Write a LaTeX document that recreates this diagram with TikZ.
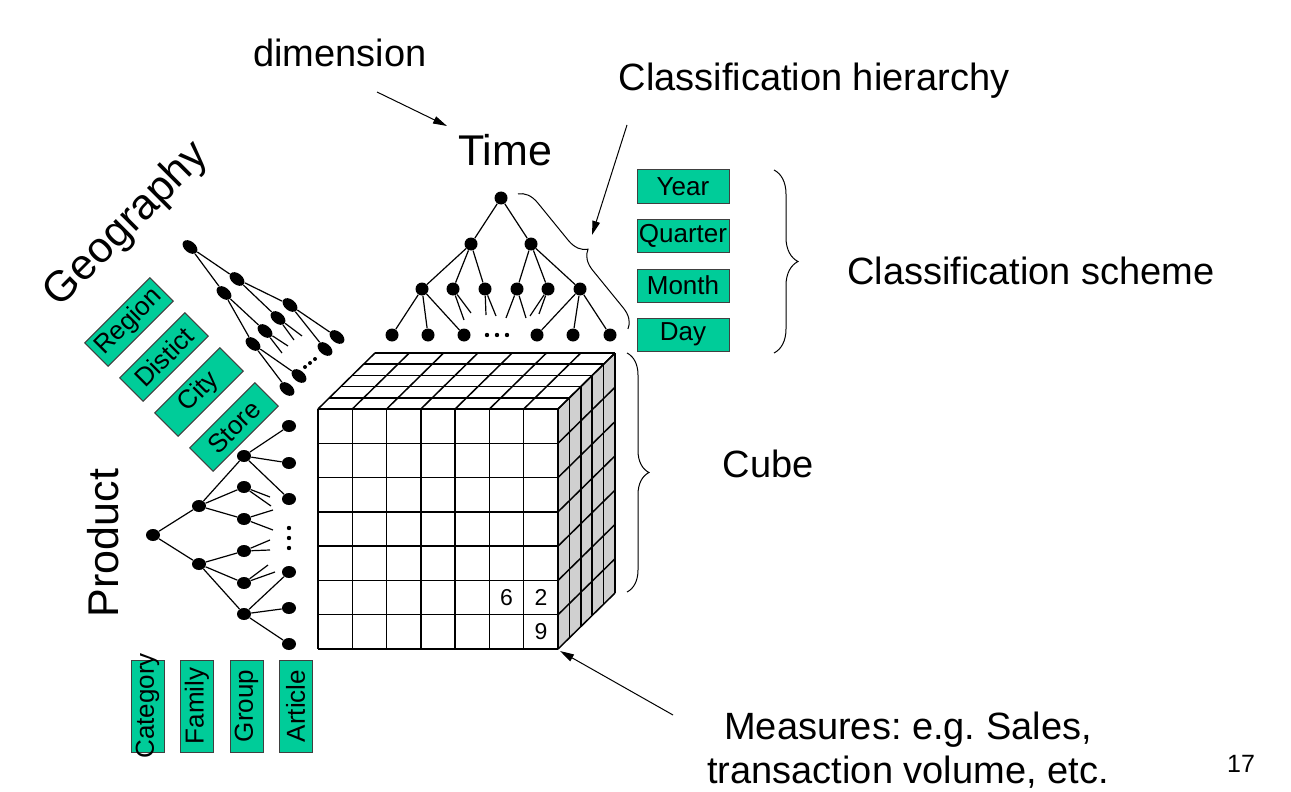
\documentclass[tikz,border=0pt]{standalone}
\usepackage{fontspec}
\setmainfont{Liberation Sans}
\usetikzlibrary{arrows.meta,shapes.geometric,decorations.pathreplacing}
\frenchspacing

\definecolor{levelgreen}{RGB}{0,204,153}
\definecolor{sidegray}{RGB}{208,208,208}

\newcommand{\bigtext}{\fontsize{21.5}{24}\selectfont}
\newcommand{\midtext}{\fontsize{19}{22}\selectfont}
\newcommand{\boxtext}{\fontsize{13}{15}\selectfont}
\newcommand{\celltext}{\fontsize{11.5}{13}\selectfont}

\tikzset{
  tnode/.style={circle, fill, inner sep=0pt, minimum size=6.5pt},
  pnode/.style={ellipse, fill, inner sep=0pt, minimum width=7pt, minimum height=6pt},
  gnode/.style={ellipse, fill, inner sep=0pt, minimum width=8.5pt, minimum height=5.5pt, rotate=-39},
  lvlbox/.style={draw=black!75, line width=0.5pt, fill=levelgreen, inner sep=0pt, minimum width=46pt, minimum height=16.5pt, font=\boxtext},
  branch/.style={line width=0.6pt},
  cubeline/.style={line width=0.75pt},
  pointer/.style={-{Triangle[length=7pt,width=3.8pt]}, line width=0.5pt},
  curly/.style={decorate, decoration={brace, amplitude=#1}, line width=0.5pt}
}

\begin{document}
\begin{tikzpicture}[x=0.5pt, y=-0.5pt]
\useasboundingbox (0,0) rectangle (1291,792);

% labels
\node[font=\midtext, anchor=base] (dim) at (340,67) {dimension};
\node[font=\bigtext, anchor=base] (time) at (505,165) {Time};
\node[font=\midtext, anchor=base] (hier) at (814,91) {Classification hierarchy};
\node[font=\midtext, anchor=base] (scheme) at (1031,284) {Classification scheme};
\node[font=\midtext, anchor=base] (cube) at (768,477) {Cube};
\node[font=\midtext, align=center] (meas) at (908,750) {Measures: e.g. Sales,\\transaction volume, etc.};
\node[font=\fontsize{12.5}{14}\selectfont, anchor=base] (page) at (1241,772) {17};
\node[font=\bigtext, rotate=45] (geo) at (127,225) {Geography};
\node[font=\bigtext, rotate=90] (prod) at (103,543) {Product};

% time tree
\node[tnode] (t0) at (501,198) {};
\foreach \n/\x in {t1/471, t2/531} \node[tnode] (\n) at (\x,244) {};
\foreach \n/\x in {t11/422, t12/453, t13/485, t21/517, t22/548, t23/580} \node[tnode] (\n) at (\x,289) {};
\foreach \n/\x in {tl1/392, tl2/428, tl3/464, tl4/537, tl5/573, tl6/610} \node[tnode] (\n) at (\x,335) {};
\draw[branch] (t0) -- (t1) (t0) -- (t2)
  (t1) -- (t11) (t1) -- (t12) (t1) -- (t13)
  (t2) -- (t21) (t2) -- (t22) (t2) -- (t23)
  (t11) -- (tl1) (t11) -- (tl2) (t11) -- (tl3)
  (t23) -- (tl4) (t23) -- (tl5) (t23) -- (tl6);
\foreach \from/\x/\y [count=\k] in {t12/464/320, t12/471/313, t13/486/315, t13/496/316, t21/506/318, t21/526/318, t22/530/316, t22/539/314} {
  \coordinate (ts\k) at (\x,\y);
  \draw[branch] (\from) -- (ts\k);
}
\foreach \x in {487,497,507} \fill (\x,335) circle (1.1pt);

\foreach \n/\y/\t in {year/186.5/Year, quarter/235.5/Quarter, month/285.5/Month, day/334.5/Day}
  \node[lvlbox] (\n) at (683,\y) {\t};

% product tree
\node[pnode] (p0) at (153,535) {};
\foreach \n/\y in {p1/506, p2/564} \node[pnode] (\n) at (199,\y) {};
\foreach \n/\y in {p11/456, p12/487, p13/519, p21/551, p22/583, p23/614} \node[pnode] (\n) at (244,\y) {};
\foreach \n/\y in {pl1/426, pl2/463, pl3/499, pl4/572, pl5/608, pl6/644} \node[pnode] (\n) at (289,\y) {};
\draw[branch] (p0) -- (p1) (p0) -- (p2)
  (p1) -- (p11) (p1) -- (p12) (p1) -- (p13)
  (p2) -- (p21) (p2) -- (p22) (p2) -- (p23)
  (p11) -- (pl1) (p11) -- (pl2) (p11) -- (pl3)
  (p23) -- (pl4) (p23) -- (pl5) (p23) -- (pl6);
\foreach \from/\x/\y [count=\k] in {p12/270/497, p12/271/506, p13/273/510, p13/273/530, p21/270/540, p21/270/550, p22/268/565, p22/275/572} {
  \coordinate (ps\k) at (\x,\y);
  \draw[branch] (\from) -- (ps\k);
}
\foreach \y in {528,538,548} \fill (289,\y) circle (1.1pt);

\node[lvlbox, rotate=90] (category) at (147.5,706) {\makebox[0pt]{Category}};
\node[lvlbox, rotate=90] (family) at (197,706) {Family};
\node[lvlbox, rotate=90] (group) at (246.5,706) {Group};
\node[lvlbox, rotate=90] (article) at (295.5,706) {Article};

% geography tree
\node[gnode] (g0) at (190,247) {};
\node[gnode] (g1) at (237,279) {};
\node[gnode] (g2) at (224,293) {};
\foreach \n/\x/\y in {g11/290/305, g12/278/318, g21/265/331, g22/253/344} \node[gnode] (\n) at (\x,\y) {};
\foreach \n/\x/\y in {gl1/337/337, gl2/325/349, gl3/299/376, gl4/287/389} \node[gnode] (\n) at (\x,\y) {};
\draw[branch] (g0) -- (g1) (g0) -- (g2)
  (g1) -- (g11) (g1) -- (g12) (g2) -- (g21) (g2) -- (g22)
  (g11) -- (gl1) (g11) -- (gl2) (g22) -- (gl3) (g22) -- (gl4);
\foreach \from/\x/\y [count=\k] in {g12/302/336, g12/294/340, g21/288/346, g21/282/353} {
  \coordinate (gs\k) at (\x,\y);
  \draw[branch] (\from) -- (gs\k);
}
\foreach \x/\y in {305/367, 310/363, 315/359} \fill (\x,\y) circle (1pt);

\foreach \n/\x/\y/\t in {region/129/322/Region, distict/164/357/Distict, city/199/392/City, store/234/427/Store}
  \node[lvlbox, rotate=45] (\n) at (\x,\y) {\t};

% cube
\fill[sidegray] (558,409) -- (615,353) -- (615,593) -- (558,649) -- cycle;
\foreach \i in {0,...,7} {
  \draw[cubeline] ({318+\i*34.29},409) -- ({318+\i*34.29},649);
  \draw[cubeline] (318,{409+\i*34.29}) -- (558,{409+\i*34.29});
  \draw[cubeline] ({318+\i*34.29},409) -- ({375+\i*34.29},353);
  \draw[cubeline] (558,{409+\i*34.29}) -- (615,{353+\i*34.29});
}
\foreach \k in {1,...,5} {
  \draw[cubeline] ({318+\k*11.4},{409-\k*11.2}) -- ({558+\k*11.4},{409-\k*11.2});
  \draw[cubeline] ({558+\k*11.4},{409-\k*11.2}) -- ({558+\k*11.4},{649-\k*11.2});
}
\node[font=\celltext] (v6) at (506.6,597.6) {6};
\node[font=\celltext] (v2) at (540.9,597.6) {2};
\node[font=\celltext] (v9) at (540.9,631.9) {9};
\coordinate (corner) at (560,651);

% braces
\draw[curly=9.7pt] (518,194) -- (628,329);
\draw[curly=12pt] (774,170) -- (774,353);
\draw[curly=11pt] (627,353) -- (627,592);

% arrows
\coordinate (dimfrom) at (377,92);
\coordinate (dimto) at (447,126);
\draw[pointer] (dimfrom) -- (dimto);
\coordinate (hierfrom) at (627,125);
\coordinate (hierto) at (592,235);
\draw[pointer] (hierfrom) -- (hierto);
\coordinate (measfrom) at (673,715);
\draw[pointer] (measfrom) -- (corner);
\end{tikzpicture}
\end{document}
